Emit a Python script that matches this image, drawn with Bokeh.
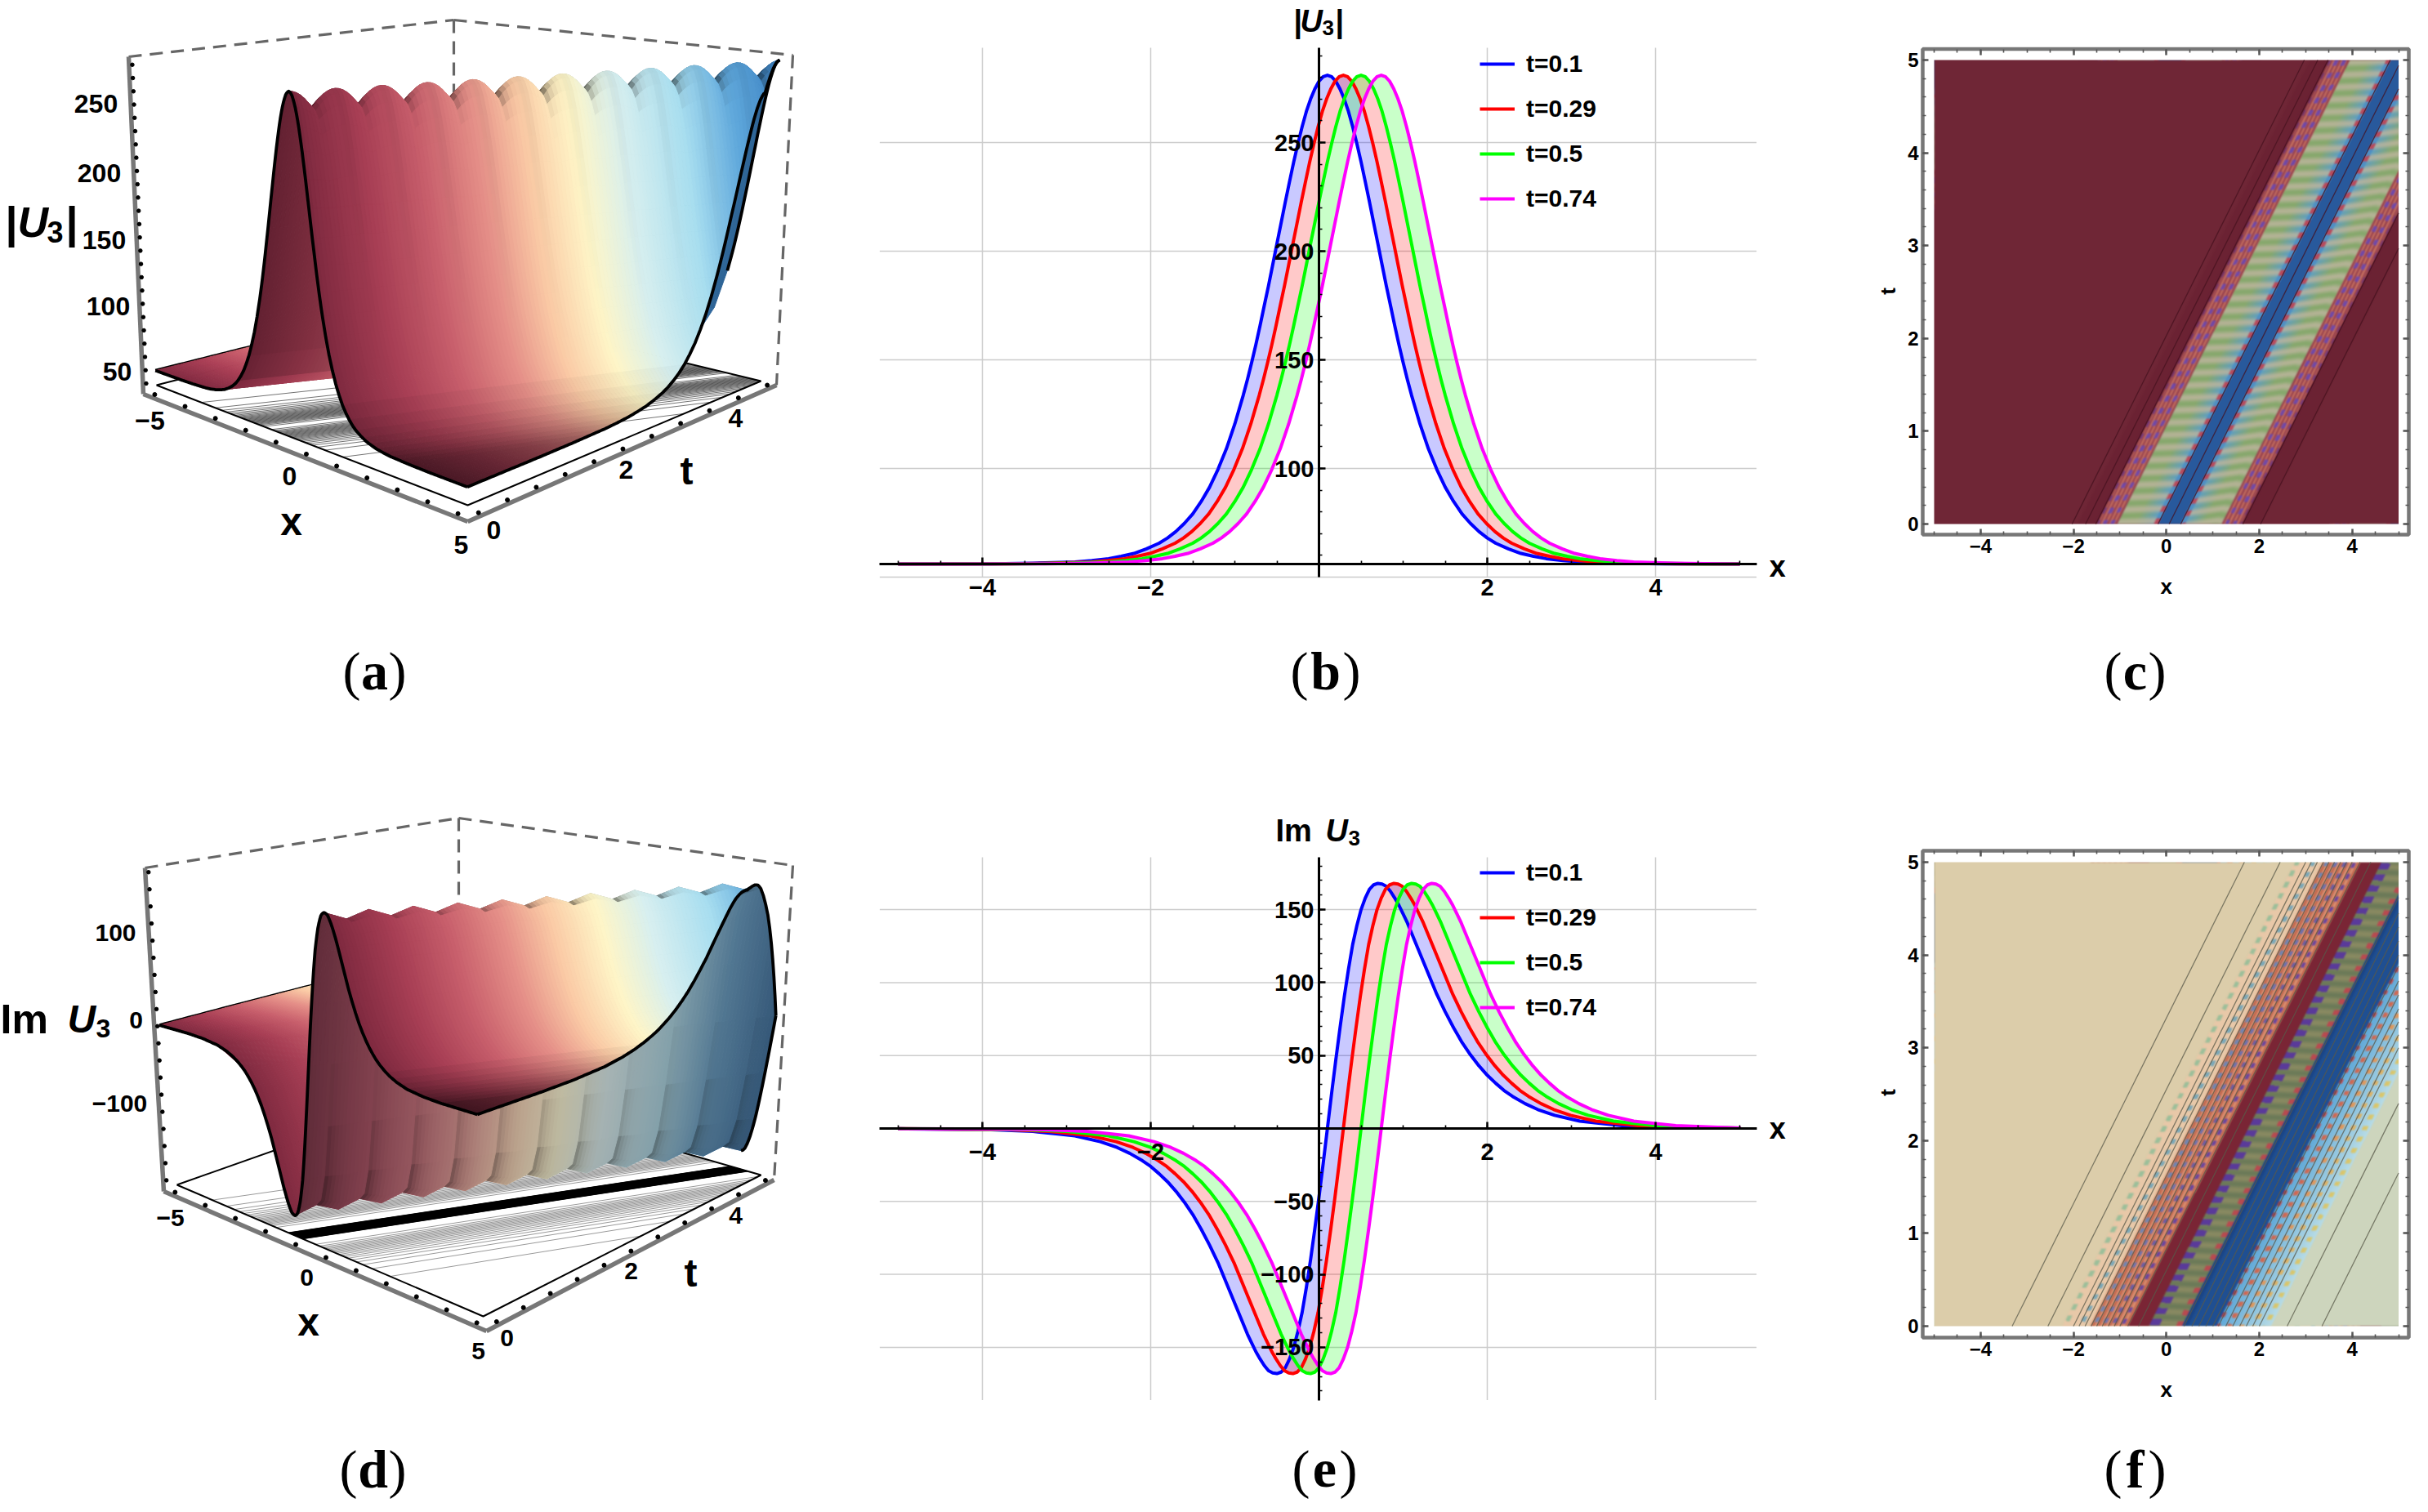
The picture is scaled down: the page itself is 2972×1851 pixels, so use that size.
import numpy as np
from bokeh.plotting import figure
from bokeh.layouts import column, row
from bokeh.models import Range1d, LinearAxis, FixedTicker, Legend, LegendItem
from bokeh.core.properties import value
from bokeh.embed import file_html
from bokeh.resources import INLINE

SANS = "Liberation Sans"
SERIF = "Liberation Serif"

# ---------- data ----------
t_labels = ["t=0.1", "t=0.29", "t=0.5", "t=0.74"]
line_colors = ["#0000ff", "#ff0000", "#00ff00", "#ff00ff"]
u_peak_x = [0.1, 0.29, 0.5, 0.74]   # peak of |U3| for each t
im_zero_x = [0.1, 0.29, 0.5, 0.74]  # zero crossing of Im U3 for each t
x_tick_values = [-4, -2, 2, 4]
x_tick_text = {-4: "\u22124", -2: "\u22122", 2: "2", 4: "4"}
u_tick_values = [100, 150, 200, 250]
im_tick_values = [-150, -100, -50, 50, 100, 150]
im_tick_text = {-150: "\u2212150", -100: "\u2212100", -50: "\u221250", 50: "50", 100: "100", 150: "150"}

# |U3| read against the distance from its peak (the curve is symmetric)
u_half_offset = [0, .05, .1, .15, .2, .25, .3, .35, .4, .45, .5, .55, .6, .65, .7, .75, .8, .85, .9, .95, 1, 1.1, 1.2, 1.3,
                 1.4, 1.5, 1.6, 1.7, 1.8, 1.9, 2, 2.15, 2.3, 2.45, 2.6, 2.8, 3, 3.5, 4, 5, 6]
u_half_value = [281, 280.3, 278.2, 274.6, 270, 264.3, 257.3, 249.5, 241.1, 232, 222.7, 213, 203.4, 193.7, 184.1, 175, 165.8,
                157, 148.8, 141, 133.7, 120.5, 109.1, 99.6, 91.4, 84.8, 79.1, 74.7, 71, 68, 65.6, 63, 60.9, 59.6, 58.5, 57.6,
                57, 56.4, 56.1, 56, 56]
# Im U3 read against the distance from its zero crossing (the curve is antisymmetric)
im_half_offset = [0, .05, .1, .15, .2, .25, .3, .35, .4, .45, .5, .55, .6, .65, .7, .75, .8, .85, .9, .95, 1, 1.1, 1.2, 1.3,
                  1.4, 1.5, 1.6, 1.7, 1.8, 1.9, 2, 2.1, 2.2, 2.35, 2.5, 2.7, 3, 3.2, 3.5, 4, 5, 6]
im_half_value = [0, 24, 47, 69, 90, 109, 126, 139, 150, 158, 164, 167, 168, 167.5, 166, 162.5, 158, 153, 147, 141, 134, 120, 106,
                 92, 80, 69, 59, 50.5, 43, 36.5, 31, 26, 22, 17, 13, 9, 5, 3.8, 2, .8, .3, .1]

u_offset = np.array([-v for v in u_half_offset[:0:-1]] + u_half_offset)
u_prof = np.array(u_half_value[:0:-1] + u_half_value)
im_offset = np.array([-v for v in im_half_offset[:0:-1]] + im_half_offset)
im_prof = np.array([-v for v in im_half_value[:0:-1]] + im_half_value)

# surface colours along t
tone_t = [0, .6, 1.15, 1.7, 2.2, 2.7, 3.2, 3.85, 4.4, 5]
tone_hex = ["#7f2a40", "#a83f55", "#c85f6c", "#e58f88", "#fbcba6", "#fff6c8", "#d8f0f0", "#a8def0", "#5fa8dc", "#3a7fc0"]

# contour positions (x - t at t = 0) on the density plots
c_line_offsets = [-2.03, -1.74, -1.52, -.18, .06, .31, 1.65, 2.03]
f_line_offsets = [-3.32, -2.55, -2.0, -1.88, -1.75, -1.62, -1.5, -1.38, -1.25, -1.12, -1.0, -.83, -.6, .38, .55, .7, .85, 1.0, 1.12, 1.28, 1.43, 1.58, 1.72, 1.86, 2.0, 2.6, 3.35]


# ---------- helpers ----------
def txt(p, x, y, s, size, style="bold", font=SANS, align="center", angle=0.0, color="black"):
    p.text(x=[x], y=[y], text=[s], text_font=value(font), text_font_style=style,
           text_font_size=value(f"{size}px"), text_align=align, text_baseline="middle",
           angle=angle, text_color=color)


def caption(p, cx, cy, letter, w):
    size = 66
    txt(p, cx - w / 2, cy, "(", size, "normal", SERIF, "right")
    txt(p, cx, cy, letter, size, "bold", SERIF, "center")
    txt(p, cx + w / 2, cy, ")", size, "normal", SERIF, "left")


def hx(s):
    return np.array([int(s[i:i + 2], 16) for i in (1, 3, 5)], dtype=float)


tone_rgb = np.array([hx(c) for c in tone_hex])


def tone(t):
    return np.array([np.interp(t, tone_t, tone_rgb[:, i]) for i in range(3)])


def to_hex(c):
    c = np.clip(c, 0, 255).astype(int)
    return "#%02x%02x%02x" % (c[0], c[1], c[2])


def homography(q):
    (x0, y0), (x1, y1), (x2, y2), (x3, y3) = q
    dx1, dx2, dx3 = x1 - x2, x3 - x2, x0 - x1 + x2 - x3
    dy1, dy2, dy3 = y1 - y2, y3 - y2, y0 - y1 + y2 - y3
    det = dx1 * dy2 - dx2 * dy1
    g = (dx3 * dy2 - dx2 * dy3) / det
    h = (dx1 * dy3 - dx3 * dy1) / det
    a, b, c = x1 - x0 + g * x1, x3 - x0 + h * x3, x0
    d, e, f = y1 - y0 + g * y1, y3 - y0 + h * y3, y0

    def m(x, t):
        u, v = (np.asarray(x, float) + 5) / 10, np.asarray(t, float) / 5
        w = g * u + h * v + 1
        return (a * u + b * v + c) / w, (d * u + e * v + f) / w
    return m


def projector(floor, top, zlo, zhi):
    hf, ht = homography(floor), homography(top)

    def P(x, t, z):
        fx, fy = hf(x, t)
        tx, ty = ht(x, t)
        s = (np.asarray(z, float) - zlo) / (zhi - zlo)
        return fx + (tx - fx) * s, fy + (ty - fy) * s
    return P, hf


def surface(p, P, zfun, shadefun, dcols, nt):
    ts = np.linspace(0, 5, nt + 1)
    items = []
    for i in range(nt):
        for j in range(len(dcols) - 1):
            t4 = np.array([ts[i], ts[i], ts[i + 1], ts[i + 1]])
            d4 = np.array([dcols[j], dcols[j + 1], dcols[j + 1], dcols[j]])
            x4 = np.clip(t4 + d4, -5, 5)
            if x4.max() - x4.min() < 1e-6:
                continue
            z4 = zfun(x4, t4)
            sx, sy = P(x4, t4, z4)
            tm, xm, zm = t4.mean(), x4.mean(), z4.mean()
            col = shadefun(tone(tm), xm, tm, xm - tm, zm)
            items.append((27 * xm - 58 * tm, list(sx), list(sy), to_hex(col)))
    items.sort(key=lambda r: r[0])
    cols = [r[3] for r in items]
    p.patches([r[1] for r in items], [r[2] for r in items], fill_color=cols, line_color=cols, line_width=1.0)


def base_fig(w, h, xr, yr):
    return figure(width=w, height=h, x_range=Range1d(*xr), y_range=Range1d(*yr), output_backend="svg",
                  toolbar_location=None, x_axis_type=None, y_axis_type=None, min_border=0,
                  outline_line_color=None, background_fill_color="white", border_fill_color="white")


def frame3d(p, pts, floor_inner, hf, level_groups, shift):
    A, B, C, LT, BT, RT, BB = pts
    grey = "#666666"
    for a_, b_ in [(LT, BT), (BT, RT), (RT, C), (BT, BB)]:
        p.line([a_[0], b_[0]], [a_[1], b_[1]], line_color=grey, line_width=3.2, line_dash="16 10")
    for levels_d, alpha in level_groups:
        for d0 in levels_d:
            d = d0 + shift
            t0, t1 = max(0, -5 - d), min(5, 5 - d)
            if t1 <= t0:
                continue
            sx, sy = hf([t0 + d, t1 + d], [t0, t1])
            p.line(list(sx), list(sy), line_color="black", line_width=1, line_alpha=alpha)
    q = floor_inner + [floor_inner[0]]
    p.line([a_[0] for a_ in q], [a_[1] for a_ in q], line_color="black", line_width=2)


def outlines(p, P, zfun, xback):
    ln = dict(line_color="black", line_width=3.8, line_join="round")
    xs = np.linspace(-5, 5, 301)
    sx, sy = P(xs, 0 * xs, zfun(xs, 0 * xs))
    p.line(list(sx), list(sy), **ln)
    ts = np.linspace(0, 5, 201)
    sx, sy = P(0 * ts + 5, ts, zfun(0 * ts + 5, ts))
    p.line(list(sx), list(sy), **ln)
    xs = np.linspace(xback, 5, 30)
    sx, sy = P(xs, 0 * xs + 5, zfun(xs, 0 * xs + 5))
    p.line(list(sx), list(sy), **ln)


def back_edge(p, P, zfun, tvis):
    ts = np.linspace(0, tvis, 30)
    sx, sy = P(0 * ts - 5, ts, zfun(0 * ts - 5, ts))
    p.line(list(sx), list(sy), line_color="black", line_width=3.8)


def axes3d(p, pts, zr, zticks):
    A, B, C, LT = pts[0], pts[1], pts[2], pts[3]
    for a_, b_ in [(A, LT), (A, B), (B, C)]:
        p.line([a_[0], b_[0]], [a_[1], b_[1]], line_color="#777777", line_width=5.5)
    s = np.linspace(.035, .97, 11)
    p.scatter(list(A[0] + (B[0] - A[0]) * s), list(A[1] + (B[1] - A[1]) * s - 5), size=5, color="black")
    p.scatter(list(B[0] + (C[0] - B[0]) * s), list(B[1] + (C[1] - B[1]) * s - 5), size=5, color="black")
    zs = (np.array(zticks) - zr[0]) / (zr[1] - zr[0])
    p.scatter(list(A[0] + (LT[0] - A[0]) * zs + 4), list(A[1] + (LT[1] - A[1]) * zs), size=4.5, color="black")


# ---------- panel (a) ----------
NT = 132
N_SC = 11
SURF_D_U = [-11, -5, -4, -3, -2.3, -1.8, -1.4, -1.1, -.9, -.7, -.5, -.35, -.2, -.1, 0, .1, .2, .3, .4, .5, .6, .7, .8, .9, 1, 1.1, 1.25, 1.4, 1.6, 1.8, 2, 2.2,
            2.4, 2.6, 2.8, 3, 3.2, 3.4, 3.6, 3.8, 4, 4.5, 5]
SURF_D_IM = [-11, -5, -4, -3, -2.2, -1.8, -1.4, -1.1, -.9, -.75, -.6, -.45, -.3, -.15, 0, .15, .3, .45, .6, .75, .9, 1, 1.1, 1.25, 1.4, 1.6, 1.8, 2, 2.2,
             2.4, 2.6, 2.8, 3, 3.2, 3.4, 3.6, 3.8, 4, 4.5, 5]


def phase(t):
    return ((np.asarray(t, float) * N_SC / 5) + .5) % 1


def z_u(x, t):
    d = np.asarray(x, float) - t
    z0 = np.interp(d, u_offset, u_prof)
    c = (2 * phase(t) - 1) ** 2
    return 56 + (z0 - 56) * (1 - .055 * c * np.exp(-(d / .4) ** 2))


def shade_u(col, x, t, d, z):
    ph = phase(t)
    if d >= 0:
        low = np.clip((3.4 - d) / 1.9, 0, 1)
        s = 1 - (1 - low) * (.42 - .3 * t / 5)
    else:
        s = 1.02 - .24 * np.clip((z - 60) / 25, 0, 1)
    s *= 1 - .62 * np.exp(-ph / .14) * np.exp(-(d / .17) ** 2) * (d > -.2) * min(1, .3 + t / 3)
    s *= 1 - .05 * np.exp(-((ph - .5) / .1) ** 2) * np.exp(-(d / .8) ** 2) * (d > 0)
    return col * s


a = base_fig(992, 942, (8, 1000), (950, 8))
a_pts = [(183, 490), (580, 646), (958, 479), (165, 77), (563, 32), (978, 75), (563, 369)]
a_inner = [(199, 479), (580, 626), (939, 474), (568, 385)]
a_top = [(172, 95), (570, 146), (962, 81), (563, 40)]
Pa, hfa = projector(a_inner, a_top, 45, 281)
u_r_off = np.array(u_half_offset)
u_r_val = np.array(u_half_value)
levels_u = np.arange(60, 280, 9.0)
lev_du = np.interp(levels_u, u_r_val[::-1], u_r_off[::-1])
frame3d(a, a_pts, a_inner, hfa, [(list(lev_du) + list(-lev_du), .55)], -.8)
back_edge(a, Pa, z_u, 1.9)
surface(a, Pa, z_u, shade_u, SURF_D_U, NT)
outlines(a, Pa, z_u, 3.9)
axes3d(a, a_pts, (32, 286), list(range(40, 281, 10)))
for (x_, y_, s_) in [(191, 522, "\u22125"), (362, 590, "0"), (572, 674, "5"), (612, 656, "0"), (774, 582, "2"), (908, 519, "4"),
                     (125, 134, "250"), (129, 219, "200"), (135, 301, "150"), (140, 382, "100"), (151, 462, "50")]:
    txt(a, x_, y_, s_, 32)
txt(a, 364, 646, "x", 48)
txt(a, 848, 584, "t", 48)
txt(a, 14, 279, "|", 54, align="left")
txt(a, 29, 279, "U", 52, "bold italic", align="left")
txt(a, 65, 291, "3", 36, align="left")
txt(a, 88, 279, "|", 54, align="left")
caption(a, 466, 829, "a", 34)

# ---------- panels (b), (e) ----------
XB = (-5.22, 5.2)


def style_axes(p, xat, ybounds, yticks, yminor, yover):
    common = dict(axis_line_color="black", axis_line_width=3, major_tick_line_color="black", major_tick_line_width=2.5,
                  minor_tick_line_color="black", minor_tick_line_width=1.6, major_tick_in=8, major_tick_out=0,
                  minor_tick_in=4, minor_tick_out=0, major_label_text_font=SANS, major_label_text_font_style="bold",
                  major_label_text_font_size="29px", major_label_text_color="black", axis_label=None)
    xa = LinearAxis(fixed_location=xat, bounds=XB,
                    ticker=FixedTicker(ticks=x_tick_values, minor_ticks=[float(v) for v in np.arange(-5, 5.01, .5)]),
                    major_label_overrides=x_tick_text, major_label_standoff=18, **common)
    ya = LinearAxis(fixed_location=0, bounds=ybounds,
                    ticker=FixedTicker(ticks=yticks, minor_ticks=yminor),
                    major_label_overrides=yover, major_label_standoff=6, **common)
    p.add_layout(xa, "below")
    p.add_layout(ya, "left")


def draw_curves(p, xs_list, yvals, legend_xy):
    fills = ["#0000ff", "#ff0000", "#00ff00"]
    for i in range(3):
        px = list(xs_list[i]) + list(xs_list[i + 1])[::-1]
        py = list(yvals) + list(yvals)[::-1]
        p.patch(px, py, fill_color=fills[i], fill_alpha=.21, line_color=None)
    rs = []
    for xs, col in zip(xs_list, line_colors):
        rs.append(p.line(xs, yvals, line_color=col, line_width=4, line_join="round"))
    leg = Legend(items=[LegendItem(label=value(l), renderers=[r]) for l, r in zip(t_labels, rs)],
                 location=legend_xy, orientation="vertical", background_fill_alpha=0, border_line_color=None,
                 label_text_font=SANS, label_text_font_style="bold", label_text_font_size="30px", label_text_color="black",
                 glyph_width=43, glyph_height=30, label_height=30, label_standoff=14, spacing=21, margin=0, padding=0)
    p.add_layout(leg, "center")


VS_B = 2.66
b_yr = (250 + (182 - 950) / VS_B, 250 + (182 - 8) / VS_B)
b = base_fig(1250, 942, ((1000 - 1622) / 103.0, (2250 - 1622) / 103.0), b_yr)
B_BOUNDS = (50, 293.6)
grid_style = dict(line_color="#cccccc", line_width=1.5)
b.segment(x_tick_values, [B_BOUNDS[0]] * 4, x_tick_values, [B_BOUNDS[1]] * 4, **grid_style)
bg = [50] + u_tick_values
b.segment([XB[0]] * 5, bg, [XB[1]] * 5, bg, **grid_style)
b_xs = [list(np.clip(pk + u_offset, -5, 5)) for pk in u_peak_x]
draw_curves(b, b_xs, list(u_prof), (819, 682))
style_axes(b, 56, B_BOUNDS, u_tick_values, [float(v) for v in range(60, 291, 10)], {})
txt(b, 5.45, 55, "x", 36)
bx = lambda px: (px - 1622) / 103.0
by = lambda py: 250 + (182 - py) / VS_B
txt(b, bx(1591), by(33), "|", 38, align="left")
txt(b, bx(1599), by(33), "U", 38, "bold italic", align="left")
txt(b, bx(1626), by(41), "3", 26, align="left")
txt(b, bx(1642), by(33), "|", 38, align="left")
caption(b, bx(1630), by(829), "b", 42 / 103.0)

# ---------- panel (c), (f): density plots ----------
CX = lambda px: (px - 2659.25) / 56.85


def blur(img):
    for _ in range(2):
        img = (img + np.roll(img, 1, 0) + np.roll(img, -1, 0) + np.roll(img, 1, 1) + np.roll(img, -1, 1)) / 5
    return img


def mix(c1, c2, s):
    s = np.asarray(s)[..., None]
    return hx(c1) * (1 - s) + hx(c2) * s


def to_rgba(img):
    img = np.clip(img, 0, 255).astype(np.uint32)
    return img[..., 0] | (img[..., 1] << 8) | (img[..., 2] << 16) | (255 << 24)


W, H = 569, 568
gx = np.linspace(-5, 5, W)
gt = np.linspace(0, 5, H)
xx, tt = np.meshgrid(gx, gt)
dd = xx - tt


def image_c():
    P_ = .132
    ad = np.abs(dd - .06)
    img = np.zeros((H, W, 3)) + hx("#6f2636")
    img[ad < 1.97] = hx("#6b2233")
    img[ad < 1.6] = hx("#6a2035")
    left = dd < .06
    rowl = (tt / P_ - .12 * xx) % 1
    rowr = (tt / P_ + .55 * np.abs(dd - 1.05)) % 1
    rw = np.where(left, rowl, rowr)
    m = (ad < 1.55) & (ad >= 1.12)
    st = ((ad / .09) % 1) < .5
    img[m] = np.where(st[m][..., None], hx("#c6705f"), hx("#96404e"))
    dots = m & (((ad / .17) % 1) < .5) & (rw < .45)
    img[dots] = hx("#7048a8")
    m = (ad < 1.12) & (ad >= .34)
    s1 = np.clip((ad - .34) / .4, 0, 1)
    c_in = mix("#5f9fc0", "#86a86c", s1)
    s2 = .5 + .5 * np.sin(2 * np.pi * rw)
    c_all = c_in * (1 - .8 * s2[..., None]) + hx("#c0b6a0") * .8 * s2[..., None]
    img[m] = c_all[m]
    m = (ad < .34) & (ad >= .24)
    img[m] = hx("#4f8fc4")
    dots = m & (rw < .45)
    img[dots] = hx("#b84a5c")
    img[ad < .24] = hx("#28599c")
    return to_rgba(blur(img))


def image_f():
    P_ = .12
    rw = (tt / P_ + .2 * dd) % 1
    img = np.zeros((H, W, 3)) + hx("#dccdaa")
    img[dd > 2.25] = hx("#cdd5bd")
    m = (dd > -2.25) & (dd <= -1.65)
    img[m] = hx("#e8c8a8")
    img[(np.abs(dd + 2.19) < .05) & (rw < .5)] = hx("#9cbf9a")
    img[(np.abs(dd + 1.85) < .05) & (rw < .45)] = hx("#7aa8b8")
    m = (dd > -1.65) & (dd <= -.83)
    s = ((dd / .12) % 1) < .5
    img[m] = np.where(s[m][..., None], hx("#d98f70"), hx("#c2684f"))
    dots = m & (((dd / .2) % 1) < .42) & (rw < .45)
    cmix = mix("#6f90b8", "#6a3a9a", np.clip((dd + 1.65) / .8, 0, 1))
    img[dots] = cmix[dots]
    img[(dd > -.83) & (dd <= -.38)] = hx("#7a2535")
    m = (dd > -.38) & (dd <= .33)
    c_ol = mix("#6b7a58", "#8a8a62", .5 + .5 * np.sin(2 * np.pi * rw))
    img[m] = c_ol[m]
    img[m & (dd < -.16) & (rw < .55)] = hx("#5a3a9a")
    img[m & (dd > .2) & (rw < .45)] = hx("#b84a50")
    img[(dd > .33) & (dd <= 1.08)] = hx("#1f4f92")
    img[(dd > .33) & (dd <= .45)] = hx("#1b4586")
    m = (dd > 1.08) & (dd <= 2.25)
    s = np.clip((dd - 1.08) / 1.17, 0, 1)
    c_lb = mix("#5fa8d8", "#b8dce6", s)
    img[m] = c_lb[m]
    dots = m & (((dd / .26) % 1) < .42) & (rw < .42)
    ctop = mix("#c23a48", "#e0a060", np.clip(s * 2, 0, 1))
    cend = mix("#e0a060", "#d8d070", np.clip(s * 2 - 1, 0, 1))
    cd = np.where((s < .5)[..., None], ctop, cend)
    img[dots] = cd[dots]
    return to_rgba(blur(img))


def density_fig(h, ypx0, ypx1, y_bot_px, frame_top_px, frame_bot_px, image, lines, linecol, letter, cap_px, xlab_px, tlab_px):
    xr = (CX(2250), CX(2964))
    yr = ((y_bot_px - ypx1) / 113.6, (y_bot_px - ypx0) / 113.6)
    p = base_fig(714, h, xr, yr)
    p.image_rgba(image=[image], x=-5, y=0, dw=10, dh=5)
    xs0, ts0, xs1, ts1 = [], [], [], []
    for d in lines:
        xs0.append(d)
        ts0.append(0)
        if d > 0:
            xs1.append(5)
            ts1.append(5 - d)
        else:
            xs1.append(d + 5)
            ts1.append(5)
    p.segment(xs0, ts0, xs1, ts1, line_color=linecol, line_width=1.3, line_alpha=.75)
    fx0, fx1 = CX(2361), CX(2956)
    ft, fb = (y_bot_px - frame_top_px) / 113.6, (y_bot_px - frame_bot_px) / 113.6
    p.quad(left=[fx0], right=[fx1], top=[ft], bottom=[fb], fill_color=None, line_color="#777777", line_width=4.5)
    ck = dict(axis_line_color=None, major_tick_line_color="#555555", major_tick_line_width=2.5,
              minor_tick_line_color="#555555", minor_tick_line_width=1.6, major_tick_in=7, major_tick_out=0,
              minor_tick_in=4, minor_tick_out=0, major_label_text_font=SANS, major_label_text_font_style="bold",
              major_label_text_font_size="24px", major_label_text_color="black")
    x_minor = [float(v) for v in np.arange(-5, 5.01, .5)]
    y_minor = [round(.2 * i, 1) for i in range(26)]
    xt = [-4, -2, 0, 2, 4]
    yt = [0, 1, 2, 3, 4, 5]
    xover = {-4: "\u22124", -2: "\u22122", 0: "0", 2: "2", 4: "4"}
    p.add_layout(LinearAxis(fixed_location=fb, ticker=FixedTicker(ticks=xt, minor_ticks=x_minor),
                            major_label_overrides=xover, major_label_standoff=5, **ck), "below")
    p.add_layout(LinearAxis(fixed_location=fx0, ticker=FixedTicker(ticks=yt, minor_ticks=y_minor),
                            major_label_standoff=5, **ck), "left")
    ck2 = dict(ck)
    p.add_layout(LinearAxis(fixed_location=ft, ticker=FixedTicker(ticks=xt, minor_ticks=x_minor),
                            major_label_text_alpha=0, major_label_overrides={v: "" for v in xt}, **ck2), "above")
    p.add_layout(LinearAxis(fixed_location=fx1, ticker=FixedTicker(ticks=yt, minor_ticks=y_minor),
                            major_label_overrides={v: "" for v in yt}, major_label_text_alpha=0, **ck2), "right")
    ty = lambda py: (y_bot_px - py) / 113.6
    txt(p, 0, ty(xlab_px), "x", 26)
    txt(p, CX(2318), ty(tlab_px), "t", 26, angle=np.pi / 2)
    caption(p, CX(2621), ty(cap_px), letter, 32 / 56.85)
    return p


c = density_fig(942, 8, 950, 649, 67.5, 662, image_c(), c_line_offsets, "#45121f", "c", 829, 725, 364)


# ---------- panel (d) ----------
def z_im(x, t):
    d = np.asarray(x, float) - t
    z0 = np.interp(d, im_offset, im_prof)
    c_ = np.abs(2 * phase(t) - 1)
    return z0 * (1 - .05 * c_ * np.exp(-((np.abs(d) - .6) / .25) ** 2))


def shade_im(col, x, t, d, z):
    ph = phase(t)
    if d > .6:
        low = np.clip((4.2 - d) / 1.9, 0, 1)
        s = 1 - (1 - low) * (.5 - .25 * t / 5)
    elif d < -.6:
        s = 1.0
    else:
        grey = col.mean()
        col = col * .72 + grey * .28
        s = .86 - .16 * t / 5
        s *= 1 - .4 * np.exp(-ph / .2) * np.exp(-((d + .5) / .3) ** 2)
    if abs(d - .6) < .2:
        s *= 1 - .5 * np.exp(-ph / .18) * min(1, .2 + t / 3)
    return col * s


d_fig = base_fig(992, 893, (8, 1000), (1843, 950))
d_pts = [(208, 1466), (603, 1637), (955, 1452), (185, 1070), (569, 1009), (978, 1067), (569, 1354)]
d_inner = [(224, 1458), (599, 1619), (939, 1446), (564, 1338)]
d_top = [(183, 1082), (585, 1145), (974, 1071), (569, 1013)]
Pd, hfd = projector(d_inner, d_top, -190, 175)
i_pk = int(np.argmax(im_half_value))
r_off = np.array(im_half_offset)
r_val = np.array(im_half_value)
lv_in = np.arange(4, 112, 4.0)
lv_out = np.arange(5, 168, 9.0)
inner = np.interp(lv_in, r_val[:i_pk + 1], r_off[:i_pk + 1])
outer = np.interp(lv_out, r_val[i_pk:][::-1], r_off[i_pk:][::-1])
frame3d(d_fig, d_pts, d_inner, hfd, [(list(inner) + list(-inner) + [0.0], .85), (list(outer) + list(-outer), .4)], -.6)
back_edge(d_fig, Pd, z_im, 2.6)
surface(d_fig, Pd, z_im, shade_im, SURF_D_IM, NT)
outlines(d_fig, Pd, z_im, 4.4)
axes3d(d_fig, d_pts, (-203, 175), list(range(-190, 171, 20)))
for (x_, y_, s_) in [(216, 1498, "\u22125"), (383, 1571, "0"), (593, 1661, "5"), (628, 1645, "0"), (780, 1563, "2"), (908, 1495, "4"),
                     (149, 1149, "100"), (174, 1256, "0"), (154, 1358, "\u2212100")]:
    txt(d_fig, x_, y_, s_, 30)
txt(d_fig, 385, 1626, "x", 48)
txt(d_fig, 853, 1566, "t", 48)
txt(d_fig, 8, 1255, "Im", 50, align="left")
txt(d_fig, 90, 1255, "U", 48, "bold italic", align="left")
txt(d_fig, 125, 1266, "3", 32, align="left")
caption(d_fig, 464, 1806, "d", 38)

# ---------- panel (e) ----------
VS_E = 1.786
e = base_fig(1250, 893, ((1000 - 1622) / 103.0, (2250 - 1622) / 103.0), ((1389 - 1843) / VS_E, (1389 - 950) / VS_E))
E_BOUNDS = (-186.2, 185.9)
e.segment(x_tick_values, [E_BOUNDS[0]] * 4, x_tick_values, [E_BOUNDS[1]] * 4, **grid_style)
e.segment([XB[0]] * 6, im_tick_values, [XB[1]] * 6, im_tick_values, **grid_style)
e_xs = [list(np.clip(pk + im_offset, -5, 5)) for pk in im_zero_x]
draw_curves(e, e_xs, list(im_prof), (819, 585))
style_axes(e, 0, E_BOUNDS, im_tick_values, [float(v) for v in range(-180, 181, 10)], im_tick_text)
txt(e, 5.45, 0, "x", 36)
ey = lambda py: (1389 - py) / VS_E
txt(e, bx(1569), ey(1024), "Im", 38, align="left")
txt(e, bx(1630), ey(1024), "U", 38, "bold italic", align="left")
txt(e, bx(1658), ey(1033), "3", 26, align="left")
caption(e, bx(1629), ey(1806), "e", 36 / 103.0)

# ---------- panel (f) ----------
f = density_fig(893, 950, 1843, 1631, 1049, 1645, image_f(), f_line_offsets, "#5a5a4a", "f", 1806, 1708, 1345)

page = column(row(a, b, c, spacing=0), row(d_fig, e, f, spacing=0), spacing=0)
open("out.html", "w").write(file_html(page, INLINE))
